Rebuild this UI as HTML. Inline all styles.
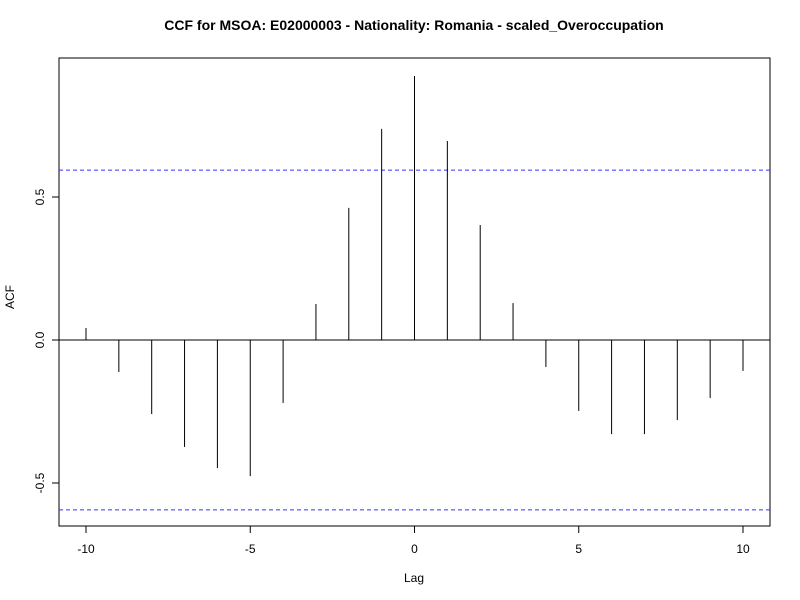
<!DOCTYPE html>
<html><head><meta charset="utf-8"><style>
body{margin:0;background:#fff;}
svg{display:block;font-family:"Liberation Sans",Arial,sans-serif;}
</style></head><body>
<svg id="chart" width="800" height="600">
<text x="414" y="30" text-anchor="middle" font-size="14" font-weight="bold">CCF for MSOA: E02000003 - Nationality: Romania - scaled_Overoccupation</text>
<rect x="59" y="58" width="711" height="468" fill="none" stroke="#000" stroke-width="1"/>
<text x="414" y="582" text-anchor="middle" font-size="12">Lag</text>
<text transform="translate(14,297) rotate(-90)" text-anchor="middle" font-size="12">ACF</text>
<g id="marks"></g>
</svg>
<script>
const lags=[-10,-9,-8,-7,-6,-5,-4,-3,-2,-1,0,1,2,3,4,5,6,7,8,9,10];
const acfValues=[0.042,-0.112,-0.259,-0.374,-0.448,-0.476,-0.220,0.126,0.462,0.738,0.923,0.696,0.402,0.129,-0.094,-0.248,-0.329,-0.329,-0.280,-0.203,-0.108];
const xTicks=[-10,-5,0,5,10];
const yTicks=[-0.5,0.0,0.5];
const yTickLabels=["-0.5","0.0","0.5"];
const ciLevel=0.594;
const NS="http://www.w3.org/2000/svg";
const xS=v=>86+(v+10)*(743-86)/20;
const yS=v=>340-v*286;
const svg=document.getElementById('chart');
const g=document.getElementById('marks');
function mk(t,a){const e=document.createElementNS(NS,t);for(const k in a)e.setAttribute(k,a[k]);return e;}
// zero line
let z=mk('line',{x1:59,x2:770,y1:yS(0),y2:yS(0),stroke:'#000'});


g.appendChild(z);
[ciLevel,-ciLevel].forEach((c,i)=>{
 const l=mk('line',{x1:59,x2:770,y1:yS(c),y2:yS(c),stroke:'#3333ff','stroke-dasharray':'4,3'});
 
 
 g.appendChild(l);
});
lags.forEach((lag,i)=>{
 const l=mk('line',{x1:xS(lag),x2:xS(lag),y1:yS(0),y2:yS(acfValues[i]),stroke:'#000'});
 
 
 g.appendChild(l);
});
xTicks.forEach(t=>{
 const l=mk('line',{x1:xS(t),x2:xS(t),y1:526,y2:533,stroke:'#000'});
 
 
 g.appendChild(l);
 const tx=mk('text',{x:xS(t),y:553,'text-anchor':'middle','font-size':12});
 tx.textContent=String(t);
 
 
 g.appendChild(tx);
});
yTicks.forEach((t,i)=>{
 const l=mk('line',{x1:52,x2:59,y1:yS(t),y2:yS(t),stroke:'#000'});
 
 
 g.appendChild(l);
 const tx=mk('text',{transform:`translate(44,${yS(t)}) rotate(-90)`,'text-anchor':'middle','font-size':12});
 tx.textContent=yTickLabels[i];
 
 
 g.appendChild(tx);
});
</script>
</body></html>
